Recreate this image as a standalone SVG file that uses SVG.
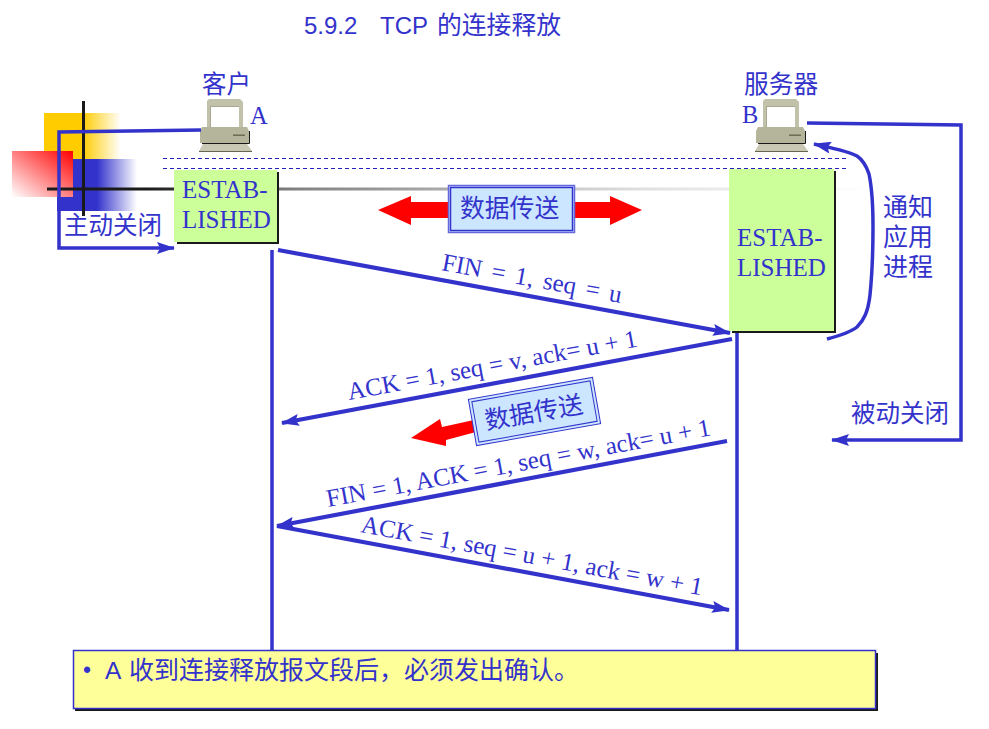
<svg xmlns="http://www.w3.org/2000/svg" width="989" height="729" viewBox="0 0 989 729">
<style>
.s{font-family:"Liberation Sans","Noto Sans CJK SC",sans-serif;fill:#3333cc}
.r{font-family:"Liberation Serif","Noto Sans CJK SC",serif;fill:#3333cc}
.z{font-family:"Noto Sans CJK SC","Liberation Sans",sans-serif;fill:#3333cc}
.l{fill:none;stroke:#3333cc;stroke-width:3.5}
.m{fill:none;stroke:#3333cc;stroke-width:4.2}
.d{fill:none;stroke:#2222bb;stroke-width:1;stroke-dasharray:4 3}
.g{fill:#ccff99;stroke:none}
.sh{fill:#1a1a1a}
</style>
<defs>
<linearGradient id="gy" x1="0" x2="1" y1="0" y2="0"><stop offset="0.5" stop-color="#ffcc00"/><stop offset="1" stop-color="#ffcc00" stop-opacity="0"/></linearGradient>
<linearGradient id="gb" x1="0" x2="1" y1="0" y2="0"><stop offset="0.5" stop-color="#3333cc"/><stop offset="1" stop-color="#3333cc" stop-opacity="0"/></linearGradient>
<linearGradient id="gr" x1="1" x2="0" y1="0" y2="1"><stop offset="0" stop-color="#ff0000"/><stop offset="1" stop-color="#ffffff"/></linearGradient>
<linearGradient id="gk" gradientUnits="userSpaceOnUse" x1="47" x2="870" y1="0" y2="0"><stop offset="0.12" stop-color="#1a1a1a"/><stop offset="0.3" stop-color="#1a1a1a" stop-opacity="0.55"/><stop offset="0.72" stop-color="#1a1a1a" stop-opacity="0.14"/><stop offset="1" stop-color="#1a1a1a" stop-opacity="0"/></linearGradient>
<marker id="a" viewBox="0 0 18 12" refX="17" refY="6" markerWidth="18" markerHeight="12" markerUnits="userSpaceOnUse" orient="auto"><path d="M0 0L18 6L0 12L3 6Z" fill="#3333cc"/></marker>
<g id="pc">
<path d="M7 2L9 0H40L43 3V28H7Z" fill="#c2c2aa"/>
<rect x="10" y="7" width="29" height="21" fill="#fff"/>
<path d="M10 7H39V8H11V28H10Z" fill="#a8a890"/>
<path d="M2 28H47L49 32V44H0V32Z" fill="#b5b59c"/>
<rect x="33" y="35.500" width="12" height="1.400" fill="#66664f"/>
<path d="M49.500 32V44.500H2" fill="none" stroke="#1a1a1a" stroke-width="1"/>
<path d="M3 45H47L52 52H-1Z" fill="#c8c8b4"/>
<path d="M-1 52.500H52" stroke="#66664f" stroke-width="1"/>
</g>
</defs>
<g id="decor">
<rect x="44" y="113" width="77" height="46" fill="url(#gy)"/>
<rect x="57" y="159" width="80" height="52" fill="url(#gb)"/>
<rect x="12" y="151" width="61" height="46" fill="url(#gr)"/>
<rect x="47" y="187.500" width="823" height="3" fill="url(#gk)"/>
<rect x="82" y="101" width="3" height="115" fill="#1a1a1a"/>
</g>
<text id="title" class="s" font-size="24"><tspan x="304" y="34">5.9.2</tspan><tspan x="380" y="34">TCP</tspan><tspan class="z" x="437" y="34" font-size="24.800">的连接释放</tspan></text>
<path class="d" d="M163 158.500H846M163 168.500H846"/>
<g id="clientA">
<text class="z" x="202" y="93" font-size="24.500">客户</text>
<use href="#pc" x="200" y="99"/>
<text class="r" x="250" y="124" font-size="24.500">A</text>
</g>
<g id="serverB">
<text class="z" x="744" y="93" font-size="24.700">服务器</text>
<use href="#pc" x="756" y="99"/>
<text class="r" x="742" y="123" font-size="24.500">B</text>
</g>
<g id="connectors">
<path class="l" d="M272 250V650M737 332V650"/>
<path class="l" d="M201 130L59 132V248H174" marker-end="url(#a)"/>
<path class="l" d="M807 123L961 125V440H832" marker-end="url(#a)"/>
<path class="l" d="M827 339C842 335 851 332 857 327C864 320 868 312 870 295C872 275 873 250 873 227C873 205 872 188 869 174C866 165 863 160 857 156C848 151 832 148 814 144" marker-end="url(#a)"/>
<path class="m" d="M278 250L730 333" marker-end="url(#a)"/>
<path class="m" d="M732 339L282 423" marker-end="url(#a)"/>
<path class="m" d="M727 441L277 526" marker-end="url(#a)"/>
<path class="m" d="M277 526L729 610" marker-end="url(#a)"/>
</g>
<g id="estabA">
<rect class="sh" x="177" y="172" width="102" height="72"/>
<rect class="g" x="174" y="170" width="103" height="72"/>
<text class="r" x="182" y="198" font-size="25">ESTAB-</text>
<text class="r" x="182" y="228" font-size="25">LISHED</text>
</g>
<g id="estabB">
<rect class="sh" x="732" y="171" width="104" height="162"/>
<rect class="g" x="729" y="169" width="105" height="162"/>
<text class="r" x="737" y="246" font-size="25">ESTAB-</text>
<text class="r" x="737" y="276" font-size="25">LISHED</text>
</g>
<text id="lClose" class="z" x="64" y="234" font-size="24.500">主动关闭</text>
<text id="lNotify" class="z" font-size="25"><tspan x="883" y="216">通知</tspan><tspan x="883" y="246">应用</tspan><tspan x="883" y="276">进程</tspan></text>
<text id="lPassive" class="z" x="851" y="422" font-size="24.500">被动关闭</text>
<g id="data1">
<path d="M378 210L411 196V202H610V196L642 210L610 225V218H411V225Z" fill="#ff0000"/>
<rect x="448.500" y="185.500" width="126" height="47" fill="#cce6ff" stroke="#6666dd" stroke-width="1.500"/>
<rect x="450.500" y="187.500" width="122" height="43" fill="#cce6ff" stroke="#3333cc" stroke-width="1.500"/>
<text class="z" x="460" y="217" font-size="24.800">数据传送</text>
</g>
<g id="data2">
<path d="M411 438L440 419L442 427L474 420L476 432L446 440L446 446Z" fill="#ff0000"/>
<g transform="rotate(-10 534.500 411.500)">
<rect x="471.500" y="388" width="126" height="47" fill="#cce6ff" stroke="#3333cc"/>
<rect x="474.500" y="391" width="120" height="41" fill="#cce6ff" stroke="#3333cc"/>
<text class="z" x="484" y="421" font-size="24.800">数据传送</text>
</g>
</g>
<g id="seqLabels">
<text class="r" font-size="25" word-spacing="3.600" transform="translate(441 270) rotate(10.400)">FIN = 1, seq = u</text>
<text class="r" font-size="25" transform="translate(349 400) rotate(-10.500)">ACK = 1, seq = v, ack= u + 1</text>
<text class="r" font-size="25" transform="translate(328 507) rotate(-10.600)">FIN = 1, ACK = 1, seq = w, ack= u + 1</text>
<text class="r" font-size="25" transform="translate(360 532) rotate(10.500)">ACK = 1, seq = u + 1, ack = w + 1</text>
</g>
<g id="note">
<rect class="sh" x="75" y="653" width="803" height="58"/>
<rect x="73.500" y="650.500" width="802" height="58" fill="#ffff99" stroke="#3333cc" stroke-width="1.500"/>
<text class="s" x="83" y="678" font-size="23">•</text>
<text class="s" x="105" y="679" font-size="24.500">A<tspan class="z" x="129" font-size="25">收到连接释放报文段后，必须发出确认。</tspan></text>
</g>
</svg>
